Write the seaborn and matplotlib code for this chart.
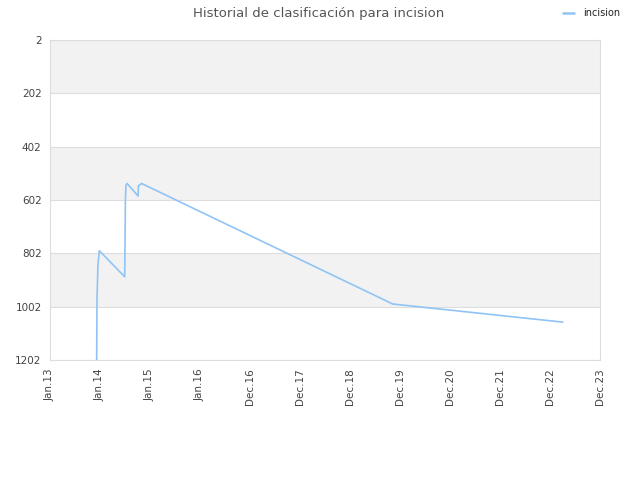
import matplotlib
matplotlib.use("Agg")
import matplotlib.pyplot as plt
import matplotlib.dates as mdates
import seaborn as sns
import pandas as pd
import numpy as np

# Data
dates = ["2013-12-14", "2013-12-16", "2013-12-23", "2014-01-02", "2014-07-05",
         "2014-07-07", "2014-07-10", "2014-07-14", "2014-07-22", "2014-10-10",
         "2014-10-12", "2014-11-04", "2019-10-28", "2023-03-13"]
ranks = [1202, 985, 846, 792, 890, 778, 602, 546, 540, 587, 549, 540, 992, 1060]
series_name = "incision"
tick_labels = ["Jan.13", "Jan.14", "Jan.15", "Jan.16", "Dec.16", "Dec.17",
               "Dec.18", "Dec.19", "Dec.20", "Dec.21", "Dec.22", "Dec.23"]
y_ticks = [2, 202, 402, 602, 802, 1002, 1202]
title = "Historial de clasificación para incision"

df = pd.DataFrame({"fecha": pd.to_datetime(dates), "rank": ranks, "serie": series_name})

sns.set_style("white")
plt.rcParams['font.family'] = ['DejaVu Sans']

fig = plt.figure(figsize=(6.4, 4.8), dpi=100)
ax = fig.add_axes([50/640, 1 - 360/480, 550/640, 320/480])

line_color = "#90c4f5"
sns.lineplot(data=df, x="fecha", y="rank", hue="serie", palette=[line_color],
             ax=ax, linewidth=1.2, legend=False)

# alternating bands
for i in range(len(y_ticks) - 1):
    if i % 2 == 0:
        ax.axhspan(y_ticks[i], y_ticks[i + 1], color="#f2f2f2", zorder=0, lw=0)
for yt in y_ticks:
    ax.axhline(yt, color="#dddddd", lw=0.8, zorder=0.5)

ax.set_ylim(1202, 2)
ax.set_yticks(y_ticks)
ax.set_yticklabels([str(v) for v in y_ticks])

start = mdates.date2num(pd.Timestamp("2013-01-10"))
end = mdates.date2num(pd.Timestamp("2023-12-07"))
ax.set_xlim(start, end)
ax.set_xticks(np.linspace(start, end, len(tick_labels)))
ax.set_xticklabels(tick_labels, rotation=90)

ax.tick_params(axis="both", length=0, labelsize=7.5, labelcolor="#444444", pad=6)
ax.set_xlabel("")
ax.set_ylabel("")
for s in ax.spines.values():
    s.set_color("#dddddd")
    s.set_linewidth(0.8)

fig.text(0.498, 1 - 14/480, title, ha="center", va="center", fontsize=9.5, color="#555555")

# legend
fig.lines.append(plt.Line2D([563/640, 574/640], [1 - 13.3/480, 1 - 13.3/480],
                            color=line_color, lw=1.8, transform=fig.transFigure))
fig.text(583/640, 1 - 12.7/480, series_name, ha="left", va="center", fontsize=7, color="#222222")

fig.savefig("out.png", dpi=100)
